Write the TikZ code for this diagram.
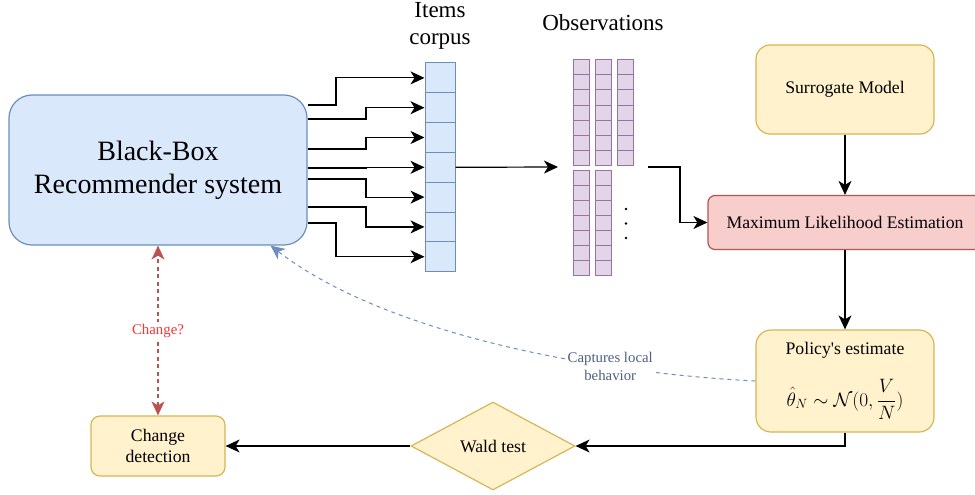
\documentclass[tikz,border=0pt]{standalone}
\usepackage{graphicx}
\usepackage{fontspec}
\setmainfont{Liberation Serif}
\usetikzlibrary{shapes.geometric,arrows.meta}
\definecolor{bfill}{HTML}{DAE8FC}
\definecolor{bdraw}{HTML}{6C8EBF}
\definecolor{yfill}{HTML}{FFF2CC}
\definecolor{ydraw}{HTML}{D6B656}
\definecolor{rfill}{HTML}{F8CECC}
\definecolor{rdraw}{HTML}{B85450}
\definecolor{pfill}{HTML}{E1D5E7}
\definecolor{pdraw}{HTML}{9673A6}
\definecolor{changered}{RGB}{255,51,51}
\definecolor{capblue}{RGB}{80,96,130}
\begin{document}
\begin{tikzpicture}[x=1pt,y=-1pt,line width=1.2pt,
    arr/.style={-{Stealth[length=14pt,width=13pt,inset=4pt]}},
    box/.style={draw,rounded corners=#1,align=center,inner sep=0pt,
        font=\fontsize{17.7}{21.5}\selectfont},
    ybox/.style={box=#1,draw=ydraw,fill=yfill},
    item/.style={draw=bdraw,fill=bfill,line width=1pt,minimum width=30pt,
        minimum height=29.8pt,inner sep=0pt}]
    \useasboundingbox (0,0) rectangle (975,495);
    % Black-box system
    \node[box=23pt,draw=bdraw,fill=bfill,minimum width=298pt,minimum height=150pt,
        font=\fontsize{28}{33}\selectfont] (bb) at (158,170) {Black-Box\\Recommender system};
    % Items corpus
    \node[align=center,font=\fontsize{23}{27}\selectfont] (itemlbl) at (440,26) {Items\\corpus};
    \foreach \i in {1,...,7}
        \node[item] (c\i) at (440,{63+29.8*(\i-0.5)}) {};
    % Observations
    \node[font=\fontsize{23}{27}\selectfont] (obslbl) at (603,23) {Observations};
    \foreach \cx in {573,595,617}
        \foreach \j in {1,...,7}
            \draw[draw=pdraw,fill=pfill,line width=1pt] (\cx,{60+15*(\j-1)}) rectangle ++(16,15);
    \foreach \cx in {573,595}
        \foreach \j in {1,...,7}
            \draw[draw=pdraw,fill=pfill,line width=1pt] (\cx,{170+15*(\j-1)}) rectangle ++(16,15);
    \foreach \dy in {209,223.5,238}
        \fill (626,\dy) circle (1.4);
    \coordinate (obsin) at (558,167);
    \coordinate (obsout) at (648,167);
    % Right column
    \node[ybox=14pt,minimum width=178pt,minimum height=89pt] (sm) at (845,89.5) {Surrogate Model};
    \node[box=7pt,draw=rdraw,fill=rfill,minimum width=274pt,minimum height=54pt] (mle) at (845,222.5) {Maximum Likelihood Estimation};
    \node[ybox=15pt,minimum width=178pt,minimum height=102pt] (pol) at (845,381)
        {Policy\textquotesingle s estimate\\[20pt]
        \scalebox{1.12}{$\hat{\theta}_N \sim \mathcal{N}(0,\displaystyle\frac{V}{N})$}\rule[-8pt]{0pt}{0pt}};
    % Bottom row
    \node[diamond,draw=ydraw,fill=yfill,minimum width=164pt,minimum height=88pt,inner sep=0pt,
        font=\fontsize{17.7}{21.5}\selectfont] (wald) at (493,446) {Wald test};
    \node[ybox=9pt,minimum width=134pt,minimum height=60pt] (cd) at (158,446) {Change\\detection};
    % Arrows
    \foreach \sy/\ex/\i in {105/336/1,119/366/2,149/366/3,168/366/4,179/366/5,207/366/6,223/336/7}
        \draw[arr] (bb.east |- 0,\sy) -| (\ex,0 |- c\i.west) -- (c\i.west);
    \draw[arr] (c4.east) -- (obsin);
    \draw[arr] (obsout) -| (680,0 |- mle.west) -- (mle.west);
    \draw[arr] (sm.south) -- (mle.north);
    \draw[arr] (mle.south) -- (pol.north);
    \draw[arr] (pol.south) |- (wald.east);
    \draw[arr] (wald.west) -- (cd.east);
    \draw[rdraw,dash pattern=on 4pt off 3.5pt,
        {Stealth[length=14pt,width=13pt,inset=4pt]}-{Stealth[length=14pt,width=13pt,inset=4pt]}]
        (cd.north) -- node[fill=white,text=changered,inner sep=2pt,
        font=\fontsize{14.8}{17}\selectfont] (chg) {Change?} (cd.north |- bb.south);
    \draw[bdraw,line width=1pt,dash pattern=on 4pt off 4pt,arr]
        (pol.west) .. controls (580,372) and (380,330) .. node[pos=0.27,fill=white,text=capblue,
        align=center,inner sep=3pt,font=\fontsize{14.8}{18}\selectfont] (cap) {Captures local\\behavior}
        ([xshift=-37pt]bb.south east);
\end{tikzpicture}
\end{document}
